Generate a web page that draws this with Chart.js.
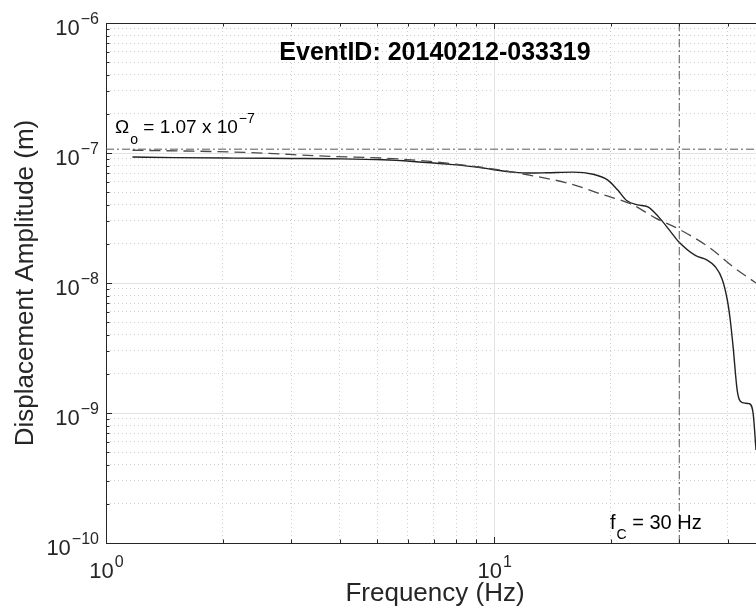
<!DOCTYPE html>
<html>
<head>
<meta charset="utf-8">
<script src="https://cdn.jsdelivr.net/npm/chart.js@4"></script>
<style>
  html, body { margin: 0; padding: 0; background: #fff; }
</style>
</head>
<body>
<canvas id="spec" width="756" height="614"></canvas>
<script>
const titleText = 'EventID: 20140212-033319';
const xLabel = 'Frequency (Hz)';
const yLabel = 'Displacement Amplitude (m)';

// decade ticks (exponents of 10)
const xTickExps = [0, 1];
const yTickExps = [-10, -9, -8, -7, -6];
const xMin = 1, xMax = 47.3;
const yMin = 1e-10, yMax = 1e-6;

// observed displacement spectrum
const obsFreq = [1.17, 1.5, 2.13, 3.0, 3.85, 5.18, 6.18, 7.56, 9.2, 10.0, 11.2, 12.4, 13.7, 16.0, 18.0, 19.6, 20.8, 22.0, 23.4, 24.9, 26.5, 28.4, 29.9, 33.0, 35.4, 37.1, 38.7, 39.9, 40.6, 41.3, 42.3, 43.1, 44.4, 45.4, 46.5, 47.3];
const obsAmp = [9.31e-8, 9.22e-8, 9.14e-8, 9.08e-8, 9.03e-8, 8.87e-8, 8.61e-8, 8.22e-8, 7.74e-8, 7.43e-8, 7.13e-8, 7.01e-8, 7.05e-8, 7.13e-8, 6.86e-8, 6.22e-8, 5.21e-8, 4.29e-8, 3.99e-8, 3.85e-8, 3.24e-8, 2.52e-8, 2.08e-8, 1.63e-8, 1.50e-8, 1.34e-8, 1.07e-8, 7.4e-9, 5.19e-9, 3.21e-9, 1.5e-9, 1.23e-9, 1.19e-9, 1.18e-9, 9.95e-10, 5.2e-10];

// fitted source model
const fitFreq = [1.17, 2.13, 3.85, 5.18, 6.84, 10.0, 12.6, 15.7, 19.1, 22.8, 26.0, 30.2, 36.0, 41.3, 47.3];
const fitAmp = [1.05e-7, 1.017e-7, 9.41e-8, 9.14e-8, 8.61e-8, 7.52e-8, 6.68e-8, 5.80e-8, 4.77e-8, 3.99e-8, 3.17e-8, 2.56e-8, 1.86e-8, 1.33e-8, 1.0e-8];

const omega0 = 1.07e-7;
const cornerFreq = 30;

const FONT = "'Liberation Sans', Arial, Helvetica, sans-serif";
const AXIS_COL = '#262626';

function minorTicks(exps, lo, hi) {
  const out = [];
  exps.forEach(e => {
    for (let m = 2; m <= 9; m++) {
      const v = m * Math.pow(10, e);
      if (v > lo && v < hi) out.push(v);
    }
  });
  return out;
}
const xMajor = xTickExps.map(e => Math.pow(10, e));
const yMajor = yTickExps.map(e => Math.pow(10, e));
const xMinor = minorTicks(xTickExps, xMin, xMax);
const yMinor = minorTicks(yTickExps, yMin, yMax);

const pairs = (xs, ys) => xs.map((x, i) => ({ x: x, y: ys[i] }));

// superscript label: base then exponent
function drawPow(ctx, exp, x, y, align, supDy) {
  const base = '10';
  const sup = String(exp).replace('-', '\u2212');
  ctx.font = '22px ' + FONT;
  const wb = ctx.measureText(base).width;
  ctx.font = '16px ' + FONT;
  const ws = ctx.measureText(sup).width;
  let x0 = align === 'right' ? x - wb - ws : x - (wb + ws) / 2;
  ctx.textAlign = 'left';
  ctx.textBaseline = 'alphabetic';
  ctx.font = '22px ' + FONT;
  ctx.fillText(base, x0, y);
  ctx.font = '16px ' + FONT;
  ctx.fillText(sup, x0 + wb + 1, y - supDy);
}

const decor = {
  id: 'decor',
  afterDraw(chart) {
    const ctx = chart.ctx;
    const ca = chart.chartArea;
    const xs = chart.scales.x, ys = chart.scales.y;
    ctx.save();
    ctx.strokeStyle = AXIS_COL;
    ctx.lineWidth = 1;
    // top edge of box
    ctx.beginPath();
    ctx.moveTo(ca.left, Math.round(ca.top) + 0.5);
    ctx.lineTo(ca.right, Math.round(ca.top) + 0.5);
    ctx.stroke();
    // inward ticks
    ctx.beginPath();
    xMajor.concat(xMinor).forEach(v => {
      if (v < xMin || v > xMax) return;
      const px = Math.round(xs.getPixelForValue(v)) + 0.5;
      const len = xMajor.includes(v) ? 6 : 3.5;
      ctx.moveTo(px, ca.bottom); ctx.lineTo(px, ca.bottom - len);
      ctx.moveTo(px, ca.top); ctx.lineTo(px, ca.top + len);
    });
    yMajor.concat(yMinor).forEach(v => {
      const py = Math.round(ys.getPixelForValue(v)) + 0.5;
      const len = yMajor.includes(v) ? 6 : 3.5;
      ctx.moveTo(ca.left, py); ctx.lineTo(ca.left + len, py);
    });
    ctx.stroke();

    // tick labels
    ctx.fillStyle = AXIS_COL;
    yTickExps.forEach(e => {
      const py = ys.getPixelForValue(Math.pow(10, e));
      drawPow(ctx, e, 98, py + 11.5, 'right', 11);
    });
    xTickExps.forEach(e => {
      const px = xs.getPixelForValue(Math.pow(10, e));
      drawPow(ctx, e, px, 578, 'center', 11);
    });

    // axis titles
    ctx.font = '26px ' + FONT;
    ctx.textAlign = 'center';
    ctx.textBaseline = 'alphabetic';
    ctx.fillText(xLabel, 435, 601);
    ctx.save();
    ctx.translate(33, (ca.top + ca.bottom) / 2);
    ctx.rotate(-Math.PI / 2);
    ctx.fillText(yLabel, 0, 0);
    ctx.restore();

    // title inside the box
    ctx.fillStyle = '#000';
    ctx.font = 'bold 25px ' + FONT;
    ctx.fillText(titleText, 435, 60);

    // annotations
    ctx.textAlign = 'left';
    let x = 115;
    ctx.font = '19px ' + FONT;
    ctx.fillText('\u03A9', x, 133);
    x += ctx.measureText('\u03A9').width;
    ctx.font = '14px ' + FONT;
    ctx.fillText('o', x + 1, 144);
    x += ctx.measureText('o').width + 1;
    ctx.font = '19px ' + FONT;
    const s1 = ' = 1.07 x 10';
    ctx.fillText(s1, x, 133);
    x += ctx.measureText(s1).width;
    ctx.font = '14px ' + FONT;
    ctx.fillText('\u22127', x + 1, 123);

    x = 610;
    ctx.font = '20px ' + FONT;
    ctx.fillText('f', x, 529);
    x += ctx.measureText('f').width;
    ctx.font = '14px ' + FONT;
    ctx.fillText('C', x + 1, 539);
    x += ctx.measureText('C').width + 1;
    ctx.font = '20px ' + FONT;
    ctx.fillText(' = ' + cornerFreq + ' Hz', x, 529);
    ctx.restore();
  }
};

const logAxis = (min, max, pos, ticks, gridCol, dash, showBorder) => ({
  type: 'logarithmic',
  position: pos,
  min: min,
  max: max,
  afterBuildTicks: s => { s.ticks = ticks.map(v => ({ value: v })); },
  ticks: { display: false },
  grid: { color: gridCol, lineWidth: 1, drawTicks: false },
  border: { display: showBorder, color: AXIS_COL, width: 1, dash: dash }
});

new Chart(document.getElementById('spec'), {
  type: 'line',
  data: {
    datasets: [
      {
        label: 'Omega0',
        data: [{ x: xMin, y: omega0 }, { x: xMax, y: omega0 }],
        borderColor: '#5a5a5a', borderWidth: 1, borderDash: [8, 3, 2, 3],
        pointRadius: 0
      },
      {
        label: 'fc',
        data: [{ x: cornerFreq, y: yMin }, { x: cornerFreq, y: yMax }],
        borderColor: '#5a5a5a', borderWidth: 1, borderDash: [8, 3, 2, 3],
        pointRadius: 0
      },
      {
        label: 'Model',
        data: pairs(fitFreq, fitAmp),
        borderColor: '#4a4a4a', borderWidth: 1.3, borderDash: [11, 6],
        pointRadius: 0, cubicInterpolationMode: 'monotone'
      },
      {
        label: 'Observed',
        data: pairs(obsFreq, obsAmp),
        borderColor: '#222', borderWidth: 1.4,
        pointRadius: 0, cubicInterpolationMode: 'monotone'
      }
    ]
  },
  options: {
    responsive: false,
    devicePixelRatio: 1,
    animation: false,
    layout: { padding: { left: 106, top: 23, right: 0, bottom: 71 } },
    plugins: { legend: { display: false }, tooltip: { enabled: false }, title: { display: false } },
    scales: {
      xMin: logAxis(xMin, xMax, 'bottom', xMinor, '#cdcdcd', [1, 3], false),
      yMin: logAxis(yMin, yMax, 'left', yMinor, '#cdcdcd', [1, 3], false),
      x: logAxis(xMin, xMax, 'bottom', xMajor, '#e2e2e2', [], true),
      y: logAxis(yMin, yMax, 'left', yMajor, '#e2e2e2', [], true)
    }
  },
  plugins: [decor]
});
</script>
</body>
</html>
